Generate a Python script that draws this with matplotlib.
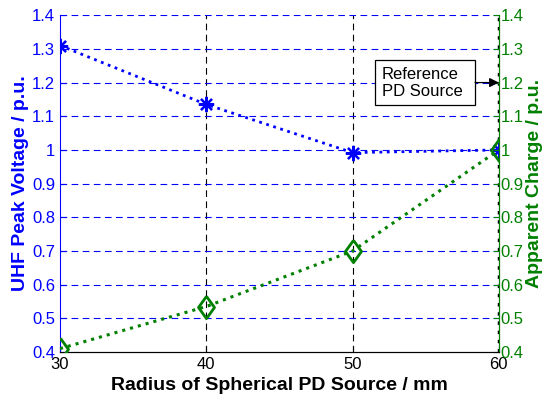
import matplotlib
matplotlib.use("Agg")
import matplotlib.pyplot as plt
from matplotlib.patches import Rectangle

plt.rcParams['font.family'] = ['Liberation Sans', 'DejaVu Sans']

radius = [30, 40, 50, 60]
uhf_voltage = [1.31, 1.135, 0.992, 1.0]
apparent_charge = [0.41, 0.535, 0.70, 1.0]
yticks = [0.4, 0.5, 0.6, 0.7, 0.8, 0.9, 1, 1.1, 1.2, 1.3, 1.4]
ytick_labels = ['0.4', '0.5', '0.6', '0.7', '0.8', '0.9', '1', '1.1', '1.2', '1.3', '1.4']

blue = '#0000ff'
green = '#008000'

# tall, narrow diamond like the MATLAB one
diamond = [(0, 1), (0.72, 0), (0, -1), (-0.72, 0), (0, 1)]

fig = plt.figure(figsize=(5.47, 3.98), dpi=100)
ax = fig.add_axes([0.1097, 0.1156, 0.8023, 0.8462])
ax2 = ax.twinx()

ax.plot(radius, uhf_voltage, linestyle=':', color=blue, linewidth=2,
        marker=(8, 2, 0), markersize=11, markeredgewidth=1.6, zorder=3)
ax2.plot(radius, apparent_charge, linestyle=':', color=green, linewidth=2.2,
         marker=diamond, markersize=16, markerfacecolor='none', markeredgewidth=2, zorder=3)

ax.set_xlim(30, 60)
ax.set_ylim(0.4, 1.4)
ax2.set_ylim(0.4, 1.4)
ax.set_xticks(radius)
ax.set_yticks(yticks)
ax.set_yticklabels(ytick_labels)
ax2.set_yticks(yticks)
ax2.set_yticklabels(ytick_labels)

# grids: vertical black dashed, horizontal blue dashed
for x in radius[1:3]:
    ax.axvline(x, color='black', linestyle=(0, (6, 4)), linewidth=0.8, zorder=1)
for y in yticks[1:]:
    ax.axhline(y, color=blue, linestyle=(0, (6, 4)), linewidth=0.8, zorder=1)
ax.axvline(60, color='black', linestyle=':', linewidth=2.5, zorder=2)

ax.tick_params(axis='y', colors=blue, labelsize=12, direction='in', length=4)
ax.tick_params(axis='x', colors='black', labelsize=12, direction='in', length=4)
ax2.tick_params(axis='y', colors=green, labelsize=12, direction='in', length=4, pad=1)

ax.spines['left'].set_color(blue)
ax.spines['top'].set_visible(False)
ax2.spines['top'].set_visible(False)
ax2.spines['right'].set_color(green)
ax2.spines['left'].set_visible(False)
ax.spines['bottom'].set_color('black')

ax.set_xlabel('Radius of Spherical PD Source / mm', fontsize=14, fontweight='bold', labelpad=4)
ax.set_ylabel('UHF Peak Voltage / p.u.', fontsize=14, fontweight='bold', color=blue, labelpad=2)
ax2.set_ylabel('Apparent Charge / p.u.', fontsize=14, fontweight='bold', color=green, labelpad=2)

# reference PD source callout
box_x0, box_x1 = 51.53, 58.37
box_y0, box_y1 = 1.133, 1.266
ax2.add_patch(Rectangle((box_x0, box_y0), box_x1 - box_x0, box_y1 - box_y0,
                        facecolor='white', edgecolor='black', linewidth=0.9, zorder=4))
ax2.text(box_x0 + 0.45, (box_y0 + box_y1) / 2, 'Reference\nPD Source', fontsize=12,
         ha='left', va='center', linespacing=1.15, zorder=5)
ax2.annotate('', xy=(60, 1.2), xytext=(box_x1, 1.2),
             arrowprops=dict(arrowstyle='-|>', color='black', linewidth=0.9,
                             shrinkA=0, shrinkB=0, mutation_scale=14), zorder=5)

fig.savefig('out.png', dpi=100)
